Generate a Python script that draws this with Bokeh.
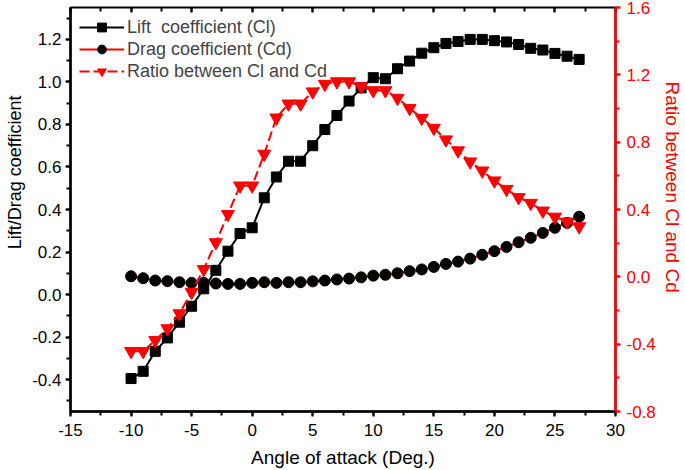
from bokeh.plotting import figure
from bokeh.models import (Range1d, LinearAxis, SingleIntervalTicker, NumeralTickFormatter,
                          CustomJSTickFormatter, Legend, LegendItem, Title)
from bokeh.embed import file_html
from bokeh.resources import INLINE

angles = list(range(-10, 28))
cl = [-0.395, -0.361, -0.267, -0.204, -0.13, -0.055, 0.027, 0.114, 0.204, 0.287,
      0.314, 0.455, 0.553, 0.627, 0.627, 0.70, 0.776, 0.842, 0.91, 0.972,
      1.02, 1.015, 1.062, 1.098, 1.135, 1.161, 1.181, 1.19, 1.2, 1.2,
      1.194, 1.188, 1.176, 1.158, 1.15, 1.134, 1.121, 1.106]
cd = [0.086, 0.077, 0.066, 0.063, 0.058, 0.055, 0.055, 0.052, 0.050, 0.050,
      0.055, 0.058, 0.055, 0.058, 0.058, 0.062, 0.066, 0.071, 0.075, 0.081,
      0.089, 0.093, 0.100, 0.110, 0.118, 0.130, 0.144, 0.155, 0.169, 0.187,
      0.204, 0.224, 0.246, 0.267, 0.290, 0.314, 0.337, 0.366]
ratio = [-0.442, -0.442, -0.377, -0.307, -0.218, -0.09, 0.045, 0.204, 0.372, 0.541,
         0.541, 0.73, 0.945, 1.028, 1.028, 1.10, 1.145, 1.16, 1.16, 1.131,
         1.107, 1.107, 1.062, 1.002, 0.943, 0.884, 0.815, 0.75, 0.684, 0.63,
         0.571, 0.521, 0.472, 0.438, 0.392, 0.356, 0.327, 0.299]

labels = ["Lift  coefficient (Cl)", "Drag coefficient (Cd)", "Ratio between Cl and Cd"]
x_title = "Angle of attack (Deg.)"
y_title = "Lift/Drag coefficient"
y2_title = "Ratio between Cl and Cd"

FONT = "Liberation Sans"
RED = "#ff0000"

p = figure(width=685, height=470, output_backend="svg", toolbar_location=None,
           x_range=Range1d(-15, 30), y_range=Range1d(-0.55, 1.35),
           min_border_left=70, min_border_right=70, min_border_top=7, min_border_bottom=58)
p.extra_y_ranges = {"ratio": Range1d(-0.8, 1.6)}
p.xgrid.visible = False
p.ygrid.visible = False
p.outline_line_color = "black"
p.outline_line_width = 2

def style_axis(ax, color):
    ax.axis_line_color = color
    ax.axis_line_width = 2.5
    ax.major_tick_line_color = color
    ax.minor_tick_line_color = color
    ax.major_tick_line_width = 2
    ax.minor_tick_line_width = 2
    ax.major_tick_out = 5
    ax.major_tick_in = 0
    ax.minor_tick_out = 4
    ax.minor_tick_in = 0
    ax.major_label_text_font = FONT
    ax.major_label_text_font_size = "17px"
    ax.major_label_text_color = color
    ax.major_label_text_line_height = 1.0
    ax.axis_label_text_font = FONT
    ax.axis_label_text_font_size = "19px"
    ax.axis_label_text_font_style = "normal"
    ax.axis_label_text_color = color
    ax.axis_label_text_line_height = 1.0

xa = p.xaxis[0]
xa.ticker = SingleIntervalTicker(interval=5, num_minor_ticks=2)
xa.formatter = NumeralTickFormatter(format="0")
xa.axis_label = x_title
style_axis(xa, "black")
xa.major_label_standoff = 7
xa.axis_label_standoff = 8

ya = p.yaxis[0]
ya.ticker = SingleIntervalTicker(interval=0.2, num_minor_ticks=2)
ya.formatter = NumeralTickFormatter(format="0.0")
style_axis(ya, "black")
ya.major_label_standoff = 4

ra = LinearAxis(y_range_name="ratio",
                ticker=SingleIntervalTicker(interval=0.4, num_minor_ticks=2),
                formatter=NumeralTickFormatter(format="0.0"))
style_axis(ra, RED)
ra.major_label_standoff = 6
p.add_layout(ra, "right")

ta = LinearAxis(ticker=SingleIntervalTicker(interval=5, num_minor_ticks=2),
                formatter=CustomJSTickFormatter(code="return ''"))
ta.axis_line_color = None
ta.major_tick_line_color = "black"
ta.minor_tick_line_color = "black"
ta.major_tick_line_width = 2
ta.minor_tick_line_width = 2
ta.major_tick_in = 5
ta.major_tick_out = 0
ta.minor_tick_in = 4
ta.minor_tick_out = 0
ta.major_label_standoff = 0
ta.axis_label_standoff = 0
ta.major_label_text_font_size = "1px"
p.add_layout(ta, "above")

lt = Title(text=y_title, align="right", offset=88, vertical_align="top",
           text_font=FONT, text_font_size="18px", text_font_style="normal",
           text_color="black", standoff=6)
p.add_layout(lt, "left")
rt = Title(text=y2_title, align="left", offset=74, vertical_align="middle",
           text_font=FONT, text_font_size="19px", text_font_style="normal",
           text_color=RED, standoff=4)
p.add_layout(rt, "right")

l1 = p.line(angles, cl, line_color="black", line_width=2)
s1 = p.scatter(angles, cl, marker="square", size=10, fill_color="black", line_color="black")
l2 = p.line(angles, cd, line_color=RED, line_width=2)
s2 = p.scatter(angles, cd, marker="circle", size=11, fill_color="black", line_color="black")
l3 = p.line(angles, ratio, line_color=RED, line_width=2, line_dash="10 4", y_range_name="ratio")
s3 = p.scatter(angles, ratio, marker="inverted_triangle", size=13, fill_color=RED,
               line_color=RED, y_range_name="ratio")

legend = Legend(items=[LegendItem(label=labels[0], renderers=[l1, s1]),
                       LegendItem(label=labels[1], renderers=[l2, s2]),
                       LegendItem(label=labels[2], renderers=[l3, s3])],
                location="top_left")
legend.background_fill_alpha = 0
legend.border_line_color = None
legend.label_text_font = FONT
legend.label_text_font_size = "18px"
legend.label_text_line_height = 1.0
legend.glyph_width = 45
legend.glyph_height = 22
legend.spacing = 0
legend.padding = 0
legend.margin = 9
legend.label_standoff = 3
legend.label_height = 22
p.add_layout(legend)

open("out.html", "w").write(file_html(p, INLINE))
